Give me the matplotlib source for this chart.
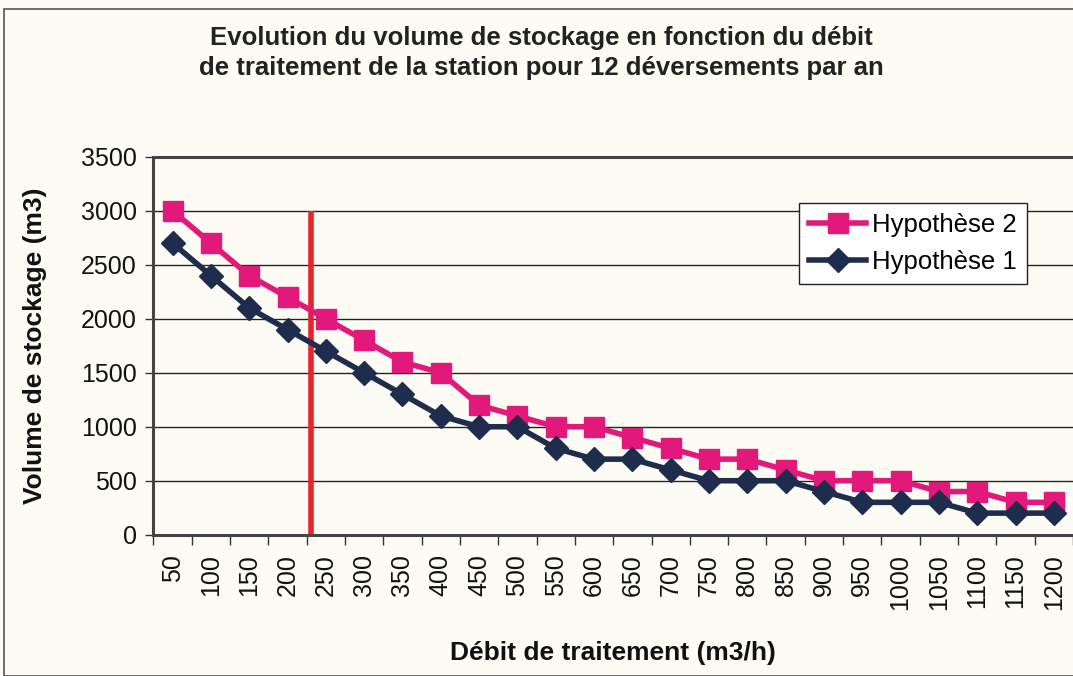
import matplotlib
matplotlib.use("Agg")
import matplotlib.pyplot as plt
import numpy as np
from matplotlib.patches import Rectangle

categories = [50, 100, 150, 200, 250, 300, 350, 400, 450, 500, 550, 600,
              650, 700, 750, 800, 850, 900, 950, 1000, 1050, 1100, 1150, 1200]
hyp2 = [3000, 2700, 2400, 2200, 2000, 1800, 1600, 1500, 1200, 1100, 1000, 1000,
        900, 800, 700, 700, 600, 500, 500, 500, 400, 400, 300, 300]
hyp1 = [2700, 2400, 2100, 1900, 1700, 1500, 1300, 1100, 1000, 1000, 800, 700,
        700, 600, 500, 500, 500, 400, 300, 300, 300, 200, 200, 200]
yticks = [0, 500, 1000, 1500, 2000, 2500, 3000, 3500]
redline_pos = 3.6   # between 200 and 250 categories
redline_top = 3000

plt.rcParams['font.family'] = ['Liberation Sans', 'DejaVu Sans']

bg = '#fdfcf4'
fig = plt.figure(figsize=(10.73, 6.76), dpi=100, facecolor=bg)
ax = fig.add_axes([0.143, 0.209, 0.857, 0.559])
ax.set_facecolor(bg)

x = np.arange(len(categories))
ax.set_xlim(-0.5, len(categories) - 0.5)
ax.set_ylim(0, 3500)

for yv in yticks[1:-1]:
    ax.axhline(yv, color='#222222', lw=1.0, zorder=1)

ax.plot([redline_pos, redline_pos], [0, redline_top], color='#e8232c', lw=4.0, zorder=2,
        solid_capstyle='butt')

ax.plot(x, hyp2, color='#e2187a', lw=4.0, marker='s', markersize=14.5,
        label='Hypothèse 2', zorder=3)
ax.plot(x, hyp1, color='#1e2d4e', lw=4.0, marker='D', markersize=12,
        label='Hypothèse 1', zorder=4)

ax.set_yticks(yticks)
ax.set_yticklabels([str(v) for v in yticks], fontsize=18, color='#111111')
ax.set_xticks(x)
ax.set_xticklabels([str(c) for c in categories], rotation=90, fontsize=18, color='#111111')
ax.set_xticks(np.arange(-0.5, len(categories), 1), minor=True)
ax.tick_params(axis='x', which='major', length=0, pad=14)
ax.tick_params(axis='x', which='minor', length=7, width=1, color='#333333', direction='out')
ax.tick_params(axis='y', length=6, width=1, color='#333333', direction='out', pad=6)

for s in ['left', 'top', 'bottom']:
    ax.spines[s].set_color('#444444')
    ax.spines[s].set_linewidth(2.2)
ax.spines['right'].set_visible(False)

ax.set_ylabel('Volume de stockage (m3)', fontsize=19, fontweight='bold', labelpad=24,
              color='#111111')
ax.set_xlabel('Débit de traitement (m3/h)', fontsize=19, fontweight='bold', labelpad=22,
              color='#111111')

fig.text(0.505, 0.944, 'Evolution du volume de stockage en fonction du débit',
         ha='center', va='center', fontsize=18.5, fontweight='bold', color='#222222')
fig.text(0.505, 0.899, 'de traitement de la station pour 12 déversements par an',
         ha='center', va='center', fontsize=18.5, fontweight='bold', color='#222222')

leg = ax.legend(loc='upper left', bbox_to_anchor=(0.702, 0.878), fontsize=18.5,
                frameon=True, fancybox=False, edgecolor='#222222', facecolor='white',
                framealpha=1, handlelength=2.2, borderpad=0.4, labelspacing=0.5,
                handletextpad=0.25, borderaxespad=0)
leg.get_frame().set_linewidth(1.0)

fig.patches.append(Rectangle((0.004, 0.0), 1.2, 0.987, transform=fig.transFigure,
                             fill=False, edgecolor='#555555', lw=1.2))

fig.savefig('out.png', dpi=100, facecolor=bg)
